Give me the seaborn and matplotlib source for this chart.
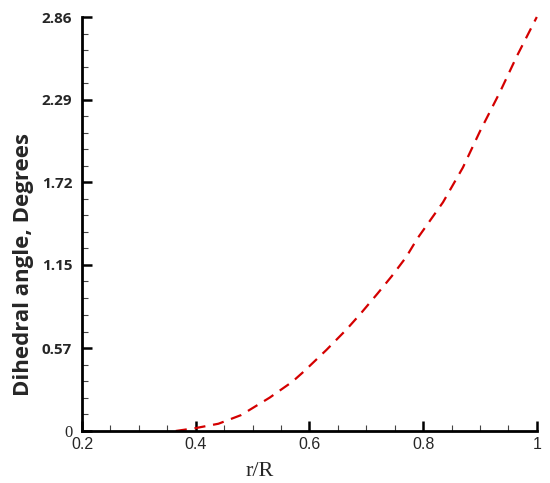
import numpy as np
import pandas as pd
import seaborn as sns
import matplotlib.pyplot as plt

# values
r_over_R = [0.365, 0.40, 0.44, 0.48, 0.53, 0.57, 0.59, 0.63, 0.665, 0.69,
            0.72, 0.745, 0.77, 0.79, 0.835, 0.87, 0.90, 0.935, 0.965, 1.0]
dihedral = [0.0, 0.02, 0.05, 0.11, 0.23, 0.34, 0.41, 0.56, 0.70, 0.81,
            0.95, 1.07, 1.20, 1.33, 1.58, 1.82, 2.07, 2.34, 2.59, 2.86]
x_ticks = [0.2, 0.4, 0.6, 0.8, 1.0]
x_tick_labels = ["0.2", "0.4", "0.6", "0.8", "1"]
y_ticks = [0, 0.57, 1.15, 1.72, 2.29, 2.86]
y_tick_labels = ["0", "0.57", "1.15", "1.72", "2.29", "2.86"]

df = pd.DataFrame({"r": r_over_R, "angle": dihedral})

sns.set_style("ticks")
fig = plt.figure(figsize=(5.5, 4.83), dpi=100)
ax = fig.add_axes([0.149, 0.1077, 0.827, 0.8571])

sns.lineplot(data=df, x="r", y="angle", ax=ax, color="#d40000",
             linewidth=1.6, dashes=False, clip_on=False)
ax.lines[0].set_dashes([5, 3.5])

ax.set_xlim(0.2, 1.0)
ax.set_ylim(0, 2.86)

ax.set_xticks(x_ticks)
ax.set_xticklabels(x_tick_labels, family="Liberation Sans", fontsize=11.5)
ax.set_xticks(np.arange(0.25, 1.0, 0.05), minor=True)
ax.set_yticks(y_ticks)
ax.set_yticklabels(y_tick_labels, family="Open Sans", fontweight="bold",
                   fontsize=11)
ax.get_yticklabels()[0].set_fontfamily("Liberation Serif")
ax.get_yticklabels()[0].set_fontweight("normal")
ax.get_yticklabels()[0].set_fontsize(12)
minor_y = []
for a, b in zip(y_ticks[:-1], y_ticks[1:]):
    minor_y += list(np.linspace(a, b, 6)[1:-1])
ax.set_yticks(minor_y, minor=True)

ax.tick_params(which="major", direction="in", length=7, width=1.8,
               color="black")
ax.tick_params(which="minor", direction="in", length=4, width=0.8,
               color="#444444")
ax.tick_params(axis="y", which="major", pad=7)
ax.tick_params(axis="x", which="major", pad=4)

for side in ["top", "right"]:
    ax.spines[side].set_visible(False)
for side in ["left", "bottom"]:
    ax.spines[side].set_linewidth(2)
    ax.spines[side].set_color("black")

ax.set_xlabel("r/R", family="Liberation Serif", fontsize=16)
ax.xaxis.set_label_coords(0.391, -0.075)
ax.set_ylabel("Dihedral angle, Degrees", family="Open Sans",
              fontweight="bold", fontsize=16)
ax.yaxis.set_label_coords(-0.105, 0.403)

fig.savefig("out.png", dpi=100)
